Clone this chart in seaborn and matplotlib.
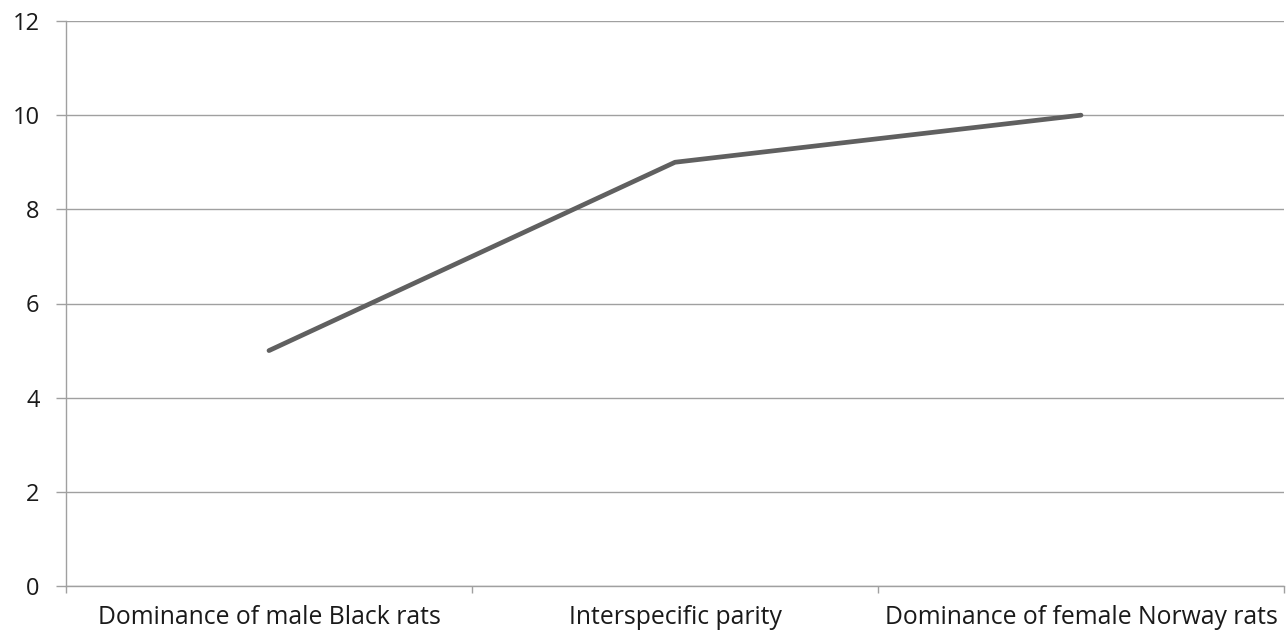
import numpy as np
import pandas as pd
import seaborn as sns
import matplotlib.pyplot as plt

categories = ['Dominance of male Black rats', 'Interspecific parity', 'Dominance of female Norway rats']
values = [5, 9, 10]

sns.set_style('white')
plt.rcParams['font.family'] = ['Open Sans', 'DejaVu Sans']

df = pd.DataFrame({'pos': np.arange(len(categories)), 'value': values})

fig = plt.figure(figsize=(12.87, 6.34), dpi=100)
ax = fig.add_axes([66/1287, 1 - 586/634, (1284 - 66)/1287, (586 - 21)/634])

sns.lineplot(data=df, x='pos', y='value', ax=ax, color='#606060', linewidth=3.4,
             solid_capstyle='round')

ax.set_xlim(-0.5, len(categories) - 0.5)
ax.set_ylim(0, 12)
ax.set_yticks(range(0, 13, 2))
ax.set_xticks(df['pos'])
ax.set_xticklabels(categories)
ax.set_xticks(np.arange(-0.5, len(categories), 1), minor=True)
ax.set_xlabel('')
ax.set_ylabel('')

ax.grid(axis='y', color='#a0a0a0', linewidth=1)
ax.set_axisbelow(True)
for s in ['top', 'right']:
    ax.spines[s].set_visible(False)
for s in ['left', 'bottom']:
    ax.spines[s].set_color('#a0a0a0')
    ax.spines[s].set_linewidth(1)

ax.tick_params(axis='y', which='major', left=True, length=7, width=1, color='#a0a0a0',
               labelsize=17, labelcolor='#1a1a1a', pad=12)
ax.tick_params(axis='x', which='major', bottom=False, labelsize=17.8, labelcolor='#1a1a1a', pad=10)
ax.tick_params(axis='x', which='minor', bottom=True, length=5, width=1, color='#a0a0a0')

fig.savefig('out.png', dpi=100)
